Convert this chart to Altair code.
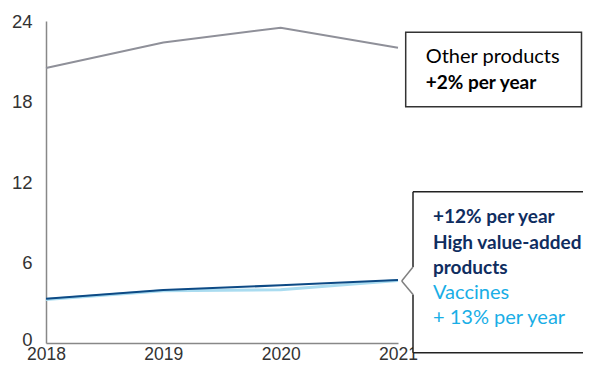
import altair as alt
import pandas as pd

years = [2018, 2019, 2020, 2021]
other = [20.5, 22.4, 23.5, 22.0]
high_value = [3.3, 3.95, 4.3, 4.7]
vaccines = [3.25, 3.9, 3.97, 4.65]
y_ticks = [0, 6, 12, 18, 24]

df = pd.DataFrame({
    "year": years * 3,
    "value": other + high_value + vaccines,
    "series": ["Other"] * 4 + ["High"] * 4 + ["Vaccines"] * 4,
})

TOP = 13
W, H = 352, 322
one = pd.DataFrame({"a": [0]})

x = alt.X("year:Q", scale=alt.Scale(domain=[2018, 2021], nice=False, zero=False),
          axis=alt.Axis(values=years, format="d", title=None, grid=False, ticks=False,
                        labelFont="Liberation Sans", labelFontSize=17.5, labelColor="#333333",
                        labelPadding=2, domainColor="#888888", domainWidth=1.5,
                        labelFlush=False, labelOverlap=False))
y = alt.Y("value:Q", scale=alt.Scale(domain=[0, 24], nice=False),
          axis=alt.Axis(values=y_ticks, title=None, grid=False, ticks=False,
                        labelFont="Liberation Sans", labelFontSize=18.5, labelColor="#333333",
                        labelPadding=14, domainColor="#888888", domainWidth=1.5,
                        labelOffset={"condition": {"test": "datum.value === 0", "value": -4}, "value": 0},
                        labelFlush=False, labelOverlap=False))

def line(series, color, width):
    return alt.Chart(df).transform_filter(alt.datum.series == series).mark_line(
        color=color, strokeWidth=width).encode(x=x, y=y)

base_lines = [
    line("Other", "#8f9099", 2),
    line("Vaccines", "#aadcf0", 3),
    line("High", "#0d4a85", 2),
]

def rule(x1, y1, x2, y2, color="#404040", w=1.5):
    return alt.Chart(one).mark_rule(color=color, strokeWidth=w).encode(
        x=alt.value(x1), y=alt.value(y1), x2=alt.value(x2), y2=alt.value(y2))

def txt(s, xp, yp, color="#000000", bold=False, size=19):
    return alt.Chart(one).mark_text(
        text=s, align="left", baseline="middle", font="Lato", fontSize=size,
        fontWeight="bold" if bold else "normal", color=color).encode(
        x=alt.value(xp), y=alt.value(yp))

ox = 46
oy = TOP + 8
annots = []
# Other products box
annots.append(alt.Chart(one).mark_rect(fill="white", stroke="#333333", strokeWidth=1.5).encode(
    x=alt.value(405.7 - ox), x2=alt.value(581.5 - ox), y=alt.value(32.3 - oy), y2=alt.value(106.7 - oy)))
annots.append(txt("Other products", 425.7 - ox, 56.7 - oy, size=20))
annots.append(txt("+2% per year", 425.7 - ox, 83.3 - oy, bold=True))
# High value box with pointer
bx = 413 - ox
rx = 600 - ox
tip = 281
annots.append(alt.Chart(one).mark_rect(fill="white", strokeWidth=0).encode(
    x=alt.value(bx), x2=alt.value(rx), y=alt.value(191.7 - oy), y2=alt.value(352.7 - oy)))
annots.append(rule(bx, 191.7 - oy, rx, 191.7 - oy, "#222222"))
annots.append(rule(bx, 352.7 - oy, rx, 352.7 - oy, "#222222"))
annots.append(rule(bx, 191.7 - oy, bx, tip - 14 - oy, "#222222"))
annots.append(rule(bx, tip + 13.5 - oy, bx, 352.7 - oy, "#222222"))
annots.append(rule(bx, tip - 14 - oy, 401.7 - ox, tip - oy, "#808080"))
annots.append(rule(401.7 - ox, tip - oy, bx, tip + 13.5 - oy, "#808080"))
navy = "#0f2d5f"
cyan = "#19aee6"
tx = 433 - ox
annots.append(txt("+12% per year", tx, 216.7 - oy, navy, True))
annots.append(txt("High value-added", tx, 243 - oy, navy, True))
annots.append(txt("products", tx, 268 - oy, navy, True))
annots.append(txt("Vaccines", tx, 293 - oy, cyan, size=20))
annots.append(txt("+ 13% per year", tx, 318 - oy, cyan, size=20))

chart = alt.layer(*base_lines, *annots).properties(
    width=W, height=H,
    autosize=alt.AutoSizeParams(type="none"),
    padding={"left": 38, "top": TOP, "right": 575 - 38 - W, "bottom": 358 - TOP - H},
).configure(background="white").configure_view(stroke=None)

chart.save("out.html", embed_options={"renderer": "svg", "actions": False})
